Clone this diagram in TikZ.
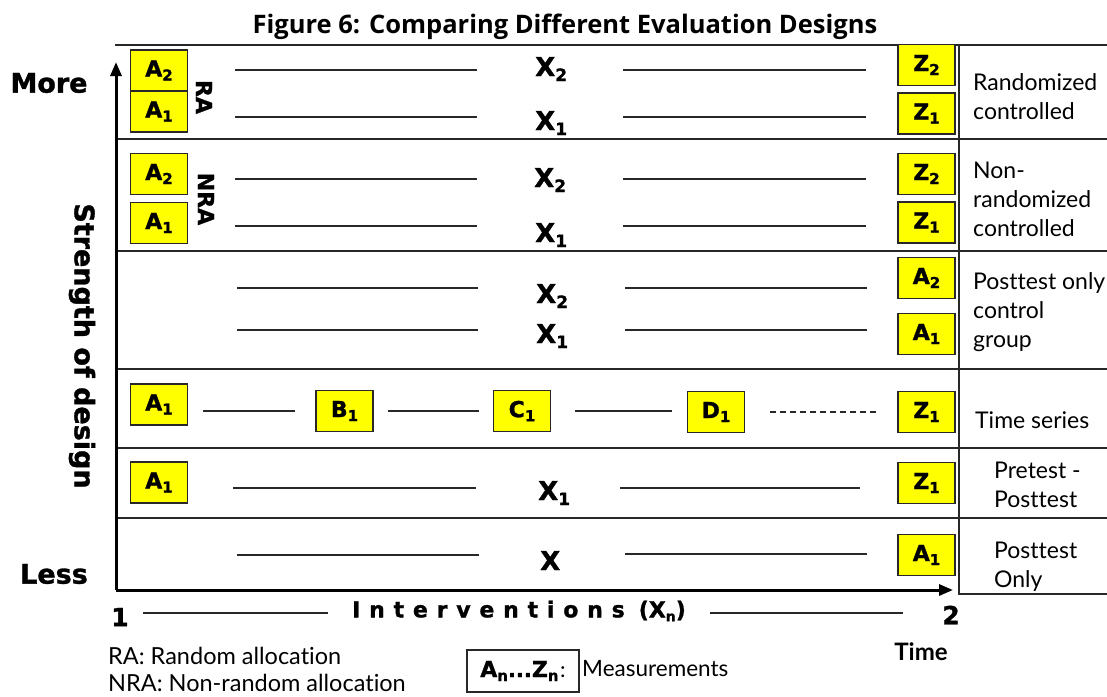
\documentclass[tikz,border=0pt]{standalone}
\usepackage{fontspec}
\usetikzlibrary{arrows.meta}
\setmainfont{Lato}[Ligatures=NoCommon]
\newfontfamily\heavyfont{DejaVu Sans}[BoldFeatures={FakeBold=1.2}]
\newfontfamily\spacedfont{DejaVu Sans}[LetterSpace=40, BoldFeatures={FakeBold=1.2}]
\newfontfamily\titlefont{Open Sans}
\definecolor{boxyellow}{RGB}{255,255,0}
\definecolor{ink}{RGB}{40,40,40}

% measurement label: letter with a lowered index
\newcommand\mlab[2]{{\heavyfont\bfseries\fontsize{22}{22}\selectfont #1\raisebox{-4pt}{\fontsize{15}{15}\selectfont #2}}}
% intervention label
\newcommand\xlab[2]{{\heavyfont\bfseries\fontsize{26}{26}\selectfont #1\raisebox{-5pt}{\fontsize{17}{17}\selectfont #2}}}

\begin{document}
\begin{tikzpicture}[x=1pt,y=-1pt,
  meas/.style={draw=ink, fill=boxyellow, line width=1.3pt, minimum width=57pt,
    minimum height=41pt, inner sep=0pt},
  rule/.style={draw=ink, line width=1.2pt},
  sep/.style={draw=ink, line width=1.3pt},
  axisline/.style={draw=black, line width=3pt},
  xmark/.style={anchor=base west, inner sep=0pt},
  design/.style={anchor=west, align=left, inner sep=0pt, font=\fontsize{23}{29}\selectfont},
  bigbold/.style={font=\heavyfont\bfseries\fontsize{27}{27}\selectfont, inner sep=0pt},
  note/.style={anchor=west, inner sep=0pt, font=\fontsize{23.5}{23.5}\selectfont}]
\useasboundingbox (0,0) rectangle (1107,696);

% title
\node (title) at (565,27) {\titlefont\bfseries\fontsize{25.5}{25.5}\selectfont Figure 6: Comparing Different Evaluation Designs};

% row separators and the label column
\draw[sep] (115,45) -- (1107,45);
\foreach \yy in {139,251,369,448,518}
  \draw[sep] (116,\yy) -- (1107,\yy);
\draw[sep] (959,45) -- (959,594) -- (1107,594);

% axes
\coordinate (origin) at (116,590);
\coordinate (ytip) at (116,62);
\coordinate (xtip) at (953,590);
\draw[axisline, -{Triangle[length=14pt,width=11pt]}] (origin) -- (ytip);
\draw[axisline, -{Triangle[length=14pt,width=11pt]}] (origin) -- (xtip);

% axis captions
\node[bigbold] (more) at (49,83) {More};
\node[bigbold] (less) at (54,574) {Less};
\node[bigbold, rotate=-90] (strength) at (82,346) {Strength of design};

% randomized controlled
\node[meas] (ra2) at (159,70.5) {\mlab{A}{2}};
\node[meas] (ra1) at (159,111.5) {\mlab{A}{1}};
\node[rotate=-90, inner sep=0pt] (ra) at (204,97) {\heavyfont\bfseries\fontsize{22}{22}\selectfont RA};
\node[xmark] (rx2) at (535,76) {\xlab{X}{2}};
\node[xmark] (rx1) at (535,130) {\xlab{X}{1}};
\node[meas] (rz2) at (926.5,65) {\mlab{Z}{2}};
\node[meas] (rz1) at (926.5,113.5) {\mlab{Z}{1}};

% non-randomized controlled
\node[meas] (na2) at (159,174) {\mlab{A}{2}};
\node[meas] (na1) at (159,223) {\mlab{A}{1}};
\node[rotate=-90, inner sep=0pt] (nra) at (206,199) {\heavyfont\bfseries\fontsize{22}{22}\selectfont NRA};
\node[xmark] (nx2) at (534,187) {\xlab{X}{2}};
\node[xmark] (nx1) at (535,242) {\xlab{X}{1}};
\node[meas] (nz2) at (926.5,174) {\mlab{Z}{2}};
\node[meas] (nz1) at (926.5,222.5) {\mlab{Z}{1}};

% posttest only control group
\node[xmark] (px2) at (536,303) {\xlab{X}{2}};
\node[xmark] (px1) at (536,343) {\xlab{X}{1}};
\node[meas] (pa2) at (926.5,278) {\mlab{A}{2}};
\node[meas] (pa1) at (926.5,334) {\mlab{A}{1}};

% time series
\node[meas] (ta) at (159,404.5) {\mlab{A}{1}};
\node[meas] (tb) at (344.5,411) {\mlab{B}{1}};
\node[meas] (tc) at (522,411) {\mlab{C}{1}};
\node[meas] (td) at (716,412) {\mlab{D}{1}};
\node[meas] (tz) at (926.5,412) {\mlab{Z}{1}};
\draw[rule, shorten <=15pt, shorten >=20pt] (ta.east |- tb.west) -- (tb.west);
\draw[rule, shorten <=14pt, shorten >=14pt] (tb.east) -- (tc.west);
\draw[rule, shorten <=24pt, shorten >=15pt] (tc.east) -- (td.west |- tc.east);
\draw[rule, dash pattern=on 6pt off 4pt, shorten <=25pt, shorten >=21pt] (td.east) -- (tz.west);

% pretest - posttest
\node[meas] (ppa) at (159,482.5) {\mlab{A}{1}};
\node[xmark] (ppx) at (538,500) {\xlab{X}{1}};
\node[meas] (ppz) at (926.5,483) {\mlab{Z}{1}};

% posttest only
\node[xmark] (ox) at (540,570) {\xlab{X}{}};
\node[meas] (oa) at (926.5,555) {\mlab{A}{1}};

% timeline rules
\foreach \yy in {70,117,179,226} {
  \draw[rule] (235,\yy) -- (477,\yy);
  \draw[rule] (623,\yy) -- (866,\yy);
}
\foreach \yy in {288,330} {
  \draw[rule] (237,\yy) -- (478,\yy);
  \draw[rule] (625,\yy) -- (867,\yy);
}
\draw[rule] (233,488) -- (476,488);
\draw[rule] (620,488) -- (860,488);
\draw[rule] (237,555) -- (479,555);
\draw[rule] (625,554) -- (867,554);

% design names
\node[design] (d1) at (973,97) {Randomized\\controlled};
\node[design] (d2) at (973,199) {Non-\\randomized\\controlled};
\node[design] (d3) at (973,312) {Posttest only\\control\\group};
\node[design] (d4) at (975,420) {Time series};
\node[design] (d5) at (994,485) {Pretest -\\Posttest};
\node[design] (d6) at (994,567) {Posttest\\Only};

% time scale
\node[font=\heavyfont\bfseries\fontsize{25}{25}\selectfont, inner sep=0pt] (one) at (120,617) {1};
\node[font=\heavyfont\bfseries\fontsize{25}{25}\selectfont, inner sep=0pt] (two) at (951,615) {2};
\node[anchor=west, inner sep=0pt] (interv) at (352,611)
  {{\spacedfont\bfseries\fontsize{22}{22}\selectfont Interventions}\hspace{14pt}{\heavyfont\bfseries\fontsize{22}{22}\selectfont (X\raisebox{-4pt}{\fontsize{14}{14}\selectfont n})}};
\coordinate (l1) at (143,613);
\coordinate (l2) at (328,613);
\coordinate (l3) at (710,613);
\coordinate (l4) at (903,613);
\draw[rule] (l1) -- (l2);
\draw[rule] (l3) -- (l4);
\node[font=\bfseries\fontsize{24}{24}\selectfont, inner sep=0pt] (time) at (921,652) {Time};

% legend
\node[note] (rakey) at (108,656) {RA: Random allocation};
\node[note] (nrakey) at (108,683) {NRA: Non-random allocation};
\node[draw=ink, line width=1.2pt, minimum width=112pt, minimum height=42pt, inner sep=0pt] (key) at (523,671)
  {\mlab{A}{n}{\heavyfont\bfseries\fontsize{21}{21}\selectfont...}\mlab{Z}{n}\,{\fontsize{22}{22}\selectfont :}};
\node[note, font=\fontsize{22.5}{22.5}\selectfont] (keytext) at (582,669) {Measurements};
\end{tikzpicture}
\end{document}
